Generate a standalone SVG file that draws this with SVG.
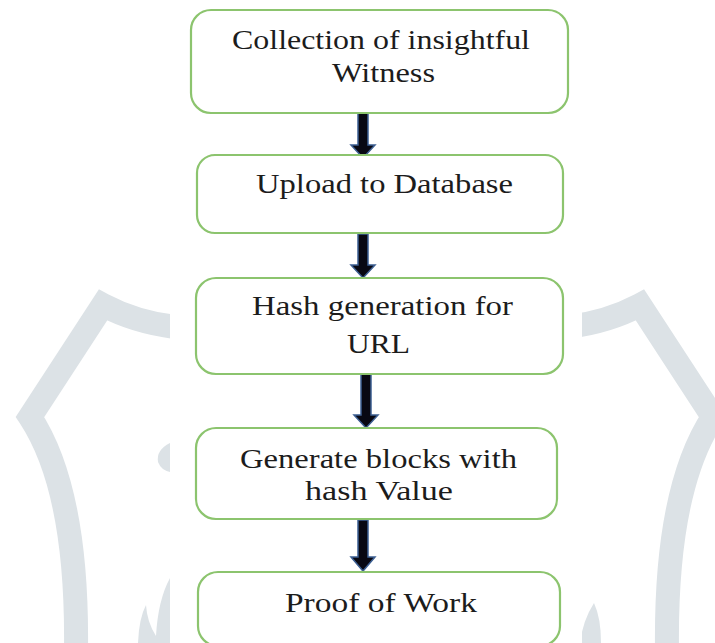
<svg xmlns="http://www.w3.org/2000/svg" width="715" height="643" viewBox="0 0 715 643">
  <style>
    .wm { fill: none; stroke: #dce2e6; stroke-width: 24; stroke-linejoin: miter; }
    .wmf { fill: #dce2e6; stroke: none; }
    .box { fill: #ffffff; stroke: #8cc46e; stroke-width: 2.2; }
    .lbl { font-family: 'Liberation Serif', 'DejaVu Serif', serif; font-size: 27px; fill: #1c1c1c; }
    .arr { fill: #080812; stroke: #3d5f92; stroke-width: 1.5; stroke-linejoin: miter; }
  </style>
  <rect x="0" y="0" width="715" height="643" fill="#ffffff"/>
  <g id="watermark">
    <path class="wm" d="M175,327 Q135,322 103,305 L30,417 Q78,490 76,650"/>
    <path class="wm" transform="translate(743,0) scale(-1,1)" d="M175,327 Q135,322 103,305 L30,417 Q78,490 76,650"/>
    <path class="wmf" d="M170,443 Q156,450 158,462 Q161,470 170,472 Z"/>
    <path class="wmf" d="M138,643 Q139,618 146,605 Q147,622 156,636 Q158,600 170,578 L170,643 Z"/>
    <path class="wmf" d="M580,643 Q583,620 594,603 Q601,618 601,643 Z"/>
    <rect x="170" y="0" width="412" height="643" fill="#ffffff"/>
  </g>
  <g id="connectors">
    <path class="arr" d="M358,112 H368 V145 H375 L363,158 L351,145 H358 Z"/>
    <path class="arr" d="M358,234 H368 V265 H375 L363,278 L351,265 H358 Z"/>
    <path class="arr" d="M361,374 H371 V415 H378 L366,428 L354,415 H361 Z"/>
    <path class="arr" d="M358,520 H368 V557 H375 L363,571 L351,557 H358 Z"/>
  </g>
  <g id="node1">
    <rect class="box" x="191" y="10" width="377" height="103" rx="20"/>
    <text class="lbl" x="232" y="49" textLength="298" lengthAdjust="spacingAndGlyphs">Collection of insightful</text>
    <text class="lbl" x="332" y="82" textLength="103" lengthAdjust="spacingAndGlyphs">Witness</text>
  </g>
  <g id="node2">
    <rect class="box" x="197" y="155" width="366" height="78" rx="18"/>
    <text class="lbl" x="256" y="193" textLength="257" lengthAdjust="spacingAndGlyphs">Upload to Database</text>
  </g>
  <g id="node3">
    <rect class="box" x="196" y="278" width="367" height="96" rx="20"/>
    <text class="lbl" x="252" y="315" textLength="261" lengthAdjust="spacingAndGlyphs">Hash generation for</text>
    <text class="lbl" x="347" y="353" textLength="63" lengthAdjust="spacingAndGlyphs">URL</text>
  </g>
  <g id="node4">
    <rect class="box" x="196" y="428" width="361" height="91" rx="20"/>
    <text class="lbl" x="240" y="468" textLength="277" lengthAdjust="spacingAndGlyphs">Generate blocks with</text>
    <text class="lbl" x="305" y="500" textLength="148" lengthAdjust="spacingAndGlyphs">hash Value</text>
  </g>
  <g id="node5">
    <rect class="box" x="198" y="572" width="362" height="74" rx="20"/>
    <text class="lbl" x="285" y="612" textLength="192" lengthAdjust="spacingAndGlyphs">Proof of Work</text>
  </g>
</svg>
